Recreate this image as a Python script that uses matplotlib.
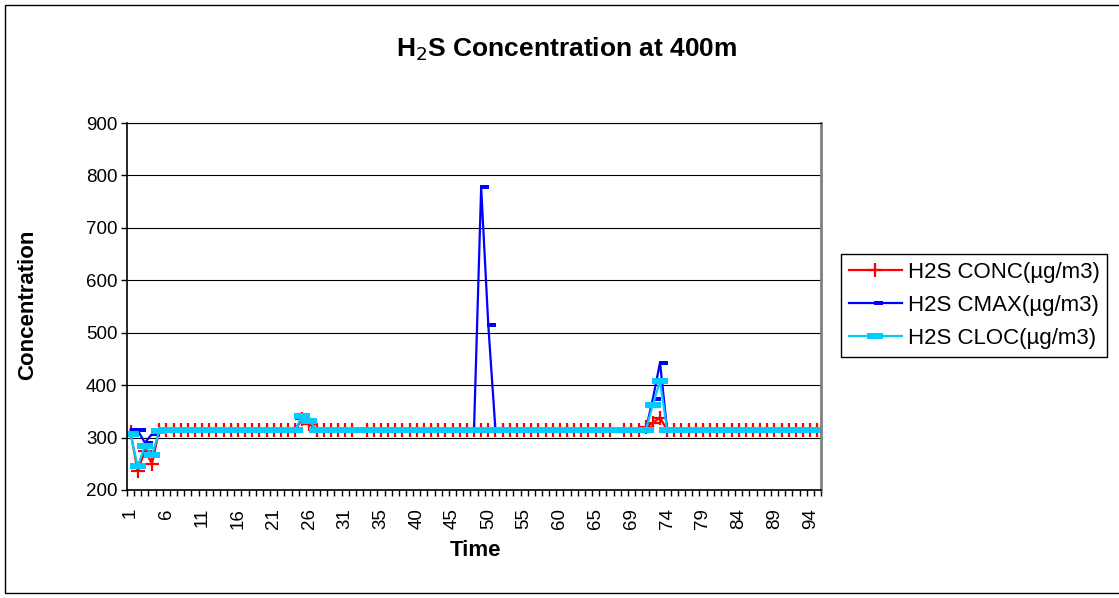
import numpy as np
import matplotlib
matplotlib.use("Agg")
import matplotlib.pyplot as plt
from matplotlib.path import Path
from matplotlib.patches import Rectangle

plt.rcParams['font.family'] = ['Liberation Sans', 'DejaVu Sans']

# time categories (two repeated hours -> category axis labels)
times = [1, 2, 3, 4, 5, 6, 7, 8, 9, 10, 11, 12, 13, 14, 15, 16, 17, 18, 19, 20,
         21, 22, 23, 24, 25, 26, 27, 28, 29, 30, 31, 32, 32, 33, 34, 35, 36, 37, 38, 39,
         40, 41, 42, 43, 44, 45, 46, 47, 48, 49, 50, 51, 52, 53, 54, 55, 56, 57, 58, 59,
         60, 61, 62, 63, 64, 65, 66, 67, 67, 68, 69, 70, 71, 72, 73, 74, 75, 76, 77, 78,
         79, 80, 81, 82, 83, 84, 85, 86, 87, 88, 89, 90, 91, 92, 93, 94, 95]

nan = np.nan
conc = [310, 236, 275, 250, 314, 314, 314, 314, 314, 314, 314, 314, 314, 314, 314, 314, 314, 314, 314, 314,
        314, 314, 314, 314, 336, 326, 314, 314, 314, 314, 314, 314, nan, 314, 314, 314, 314, 314, 314, 314,
        314, 314, 314, 314, 314, 314, 314, 314, 314, 314, 314, 314, 314, 314, 314, 314, 314, 314, 314, 314,
        314, 314, 314, 314, 314, 314, 314, 314, nan, 314, 314, 314, 320, 328, 338, 314, 314, 314, 314, 314,
        314, 314, 314, 314, 314, 314, 314, 314, 314, 314, 314, 314, 314, 314, 314, 314, 314]
cmax = [315, 314, 290, 307, 314, 314, 314, 314, 314, 314, 314, 314, 314, 314, 314, 314, 314, 314, 314, 314,
        314, 314, 314, 314, 340, 332, 314, 314, 314, 314, 314, 314, nan, 314, 314, 314, 314, 314, 314, 314,
        314, 314, 314, 314, 314, 314, 314, 314, 314, 777, 514, 314, 314, 314, 314, 314, 314, 314, 314, 314,
        314, 314, 314, 314, 314, 314, 314, 314, nan, 314, 314, 314, 314, 374, 443, 314, 314, 314, 314, 314,
        314, 314, 314, 314, 314, 314, 314, 314, 314, 314, 314, 314, 314, 314, 314, 314, 314]
cloc = [306, 245, 284, 267, 312, 314, 314, 314, 314, 314, 314, 314, 314, 314, 314, 314, 314, 314, 314, 314,
        314, 314, 314, 314, 341, 332, 314, 314, 314, 314, 314, 314, nan, 314, 314, 314, 314, 314, 314, 314,
        314, 314, 314, 314, 314, 314, 314, 314, 314, 314, 314, 314, 314, 314, 314, 314, 314, 314, 314, 314,
        314, 314, 314, 314, 314, 314, 314, 314, nan, 314, 314, 314, 314, 363, 407, 314, 314, 314, 314, 314,
        314, 314, 314, 314, 314, 314, 314, 314, 314, 314, 314, 314, 314, 314, 314, 314, 314]

labels = ['H2S CONC(\u00b5g/m3)', 'H2S CMAX(\u00b5g/m3)', 'H2S CLOC(\u00b5g/m3)']
colors = ['#FF0000', '#0000FF', '#00CCFF']

# excel-like markers
dash_right = Path([(-0.1, -0.25), (1.0, -0.25), (1.0, 0.25), (-0.1, 0.25), (-0.1, -0.25)],
                  [Path.MOVETO, Path.LINETO, Path.LINETO, Path.LINETO, Path.CLOSEPOLY])
wide_dash = Path([(-1.0, -0.33), (1.0, -0.33), (1.0, 0.33), (-1.0, 0.33), (-1.0, -0.33)],
                 [Path.MOVETO, Path.LINETO, Path.LINETO, Path.LINETO, Path.CLOSEPOLY])

fig = plt.figure(figsize=(11.19, 5.98), dpi=100)
ax = fig.add_axes([127 / 1119, 1 - 490 / 598, 694 / 1119, 367 / 598])

x = np.arange(len(times))
styles = [
    dict(marker='+', markersize=10, markeredgewidth=1.6),
    dict(marker=dash_right, markersize=11, markeredgewidth=0),
    dict(marker=wide_dash, markersize=11, markeredgewidth=0),
]
for vals, lab, col, st in zip([conc, cmax, cloc], labels, colors, styles):
    v = np.array(vals, dtype=float)
    ok = ~np.isnan(v)
    ax.plot(x[ok], v[ok], color=col, lw=1.6, label=lab,
            markerfacecolor=col, markeredgecolor=col, **st)

ax.set_ylim(200, 900)
ax.set_yticks(range(200, 1000, 100))
ax.set_xlim(-0.5, len(times) - 0.5)
ax.set_xticks(x[::5])
ax.set_xticklabels([str(t) for t in times[::5]], rotation=90)
ax.set_xticks(np.arange(-0.5, len(times), 1.0), minor=True)
ax.tick_params(axis='x', which='major', length=0, pad=13, labelsize=13.5)
ax.tick_params(axis='x', which='minor', length=4, width=1, color='black', direction='out')
ax.tick_params(axis='y', length=4, width=1, pad=3, labelsize=13.5)

ax.yaxis.grid(True, color='black', lw=0.8)
ax.set_axisbelow(True)
for s in ['left', 'bottom']:
    ax.spines[s].set_color('black')
    ax.spines[s].set_linewidth(1.2)
ax.spines['top'].set_color('black')
ax.spines['top'].set_linewidth(0.8)
ax.spines['right'].set_color('#808080')
ax.spines['right'].set_linewidth(2)

fig.text(567 / 1119, 1 - 49 / 598, 'H$_2$S Concentration at 400m', ha='center', va='center',
         fontsize=19, fontweight='bold')
fig.text(28 / 1119, 1 - 305 / 598, 'Concentration', rotation=90, ha='center', va='center',
         fontsize=16, fontweight='bold')
fig.text(475 / 1119, 1 - 550 / 598, 'Time', ha='center', va='center',
         fontsize=16, fontweight='bold')

leg = ax.legend(loc='upper left', bbox_to_anchor=(841 / 1119, 1 - 254 / 598),
                bbox_transform=fig.transFigure, fontsize=16, frameon=True, fancybox=False,
                edgecolor='black', framealpha=1, borderpad=0.35, labelspacing=0.55,
                handlelength=2.4, handletextpad=0.25, borderaxespad=0)
leg.get_frame().set_linewidth(1)

# outer chart border
fig.patches.append(Rectangle((5 / 1119, 5 / 598), 1.2, 588 / 598, transform=fig.transFigure,
                             fill=False, edgecolor='black', lw=1))

fig.savefig('out.png', dpi=100)
